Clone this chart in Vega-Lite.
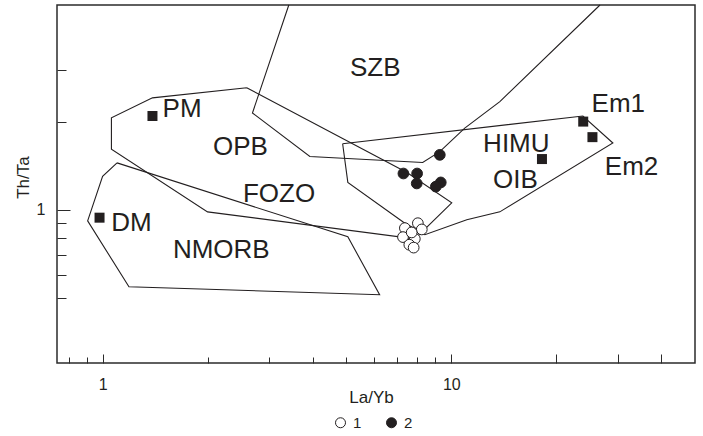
{
  "$schema": "https://vega.github.io/schema/vega-lite/v6.json",
  "width": 638,
  "height": 358,
  "autosize": {"type": "none"},
  "padding": {"left": 57, "top": 5, "right": 8, "bottom": 73},
  "config": {
    "view": {"stroke": "#2b2b2b", "strokeWidth": 1.5},
    "font": "Liberation Sans",
    "axis": {"domain": false, "grid": false, "tickColor": "#2b2b2b", "tickWidth": 1, "labelColor": "#231f20", "titleColor": "#231f20", "labelFontSize": 16, "titleFontSize": 17, "titleFontWeight": "normal"}
  },
  "datasets": {
    "polys": [
      {"poly": "SZB", "i": 1, "x": 3.42, "y": 5.0},
      {"poly": "SZB", "i": 2, "x": 2.69, "y": 2.14},
      {"poly": "SZB", "i": 3, "x": 3.93, "y": 1.52},
      {"poly": "SZB", "i": 4, "x": 8.28, "y": 1.45},
      {"poly": "SZB", "i": 5, "x": 9.27, "y": 1.58},
      {"poly": "SZB", "i": 6, "x": 10.93, "y": 1.90},
      {"poly": "SZB", "i": 7, "x": 13.78, "y": 2.34},
      {"poly": "SZB", "i": 8, "x": 26.7, "y": 5.0},
      {"poly": "OPB", "i": 1, "x": 2.59, "y": 2.61},
      {"poly": "OPB", "i": 2, "x": 1.39, "y": 2.41},
      {"poly": "OPB", "i": 3, "x": 1.06, "y": 2.06},
      {"poly": "OPB", "i": 4, "x": 1.06, "y": 1.61},
      {"poly": "OPB", "i": 5, "x": 2.0, "y": 0.984},
      {"poly": "OPB", "i": 6, "x": 7.86, "y": 0.796},
      {"poly": "OPB", "i": 7, "x": 10.03, "y": 1.056},
      {"poly": "OPB", "i": 8, "x": 7.46, "y": 1.34},
      {"poly": "OPB", "i": 9, "x": 2.59, "y": 2.61},
      {"poly": "OIB", "i": 1, "x": 4.88, "y": 1.68},
      {"poly": "OIB", "i": 2, "x": 23.85, "y": 2.09},
      {"poly": "OIB", "i": 3, "x": 29.07, "y": 1.69},
      {"poly": "OIB", "i": 4, "x": 13.78, "y": 0.984},
      {"poly": "OIB", "i": 5, "x": 11.08, "y": 0.925},
      {"poly": "OIB", "i": 6, "x": 8.40, "y": 0.822},
      {"poly": "OIB", "i": 7, "x": 7.26, "y": 0.91},
      {"poly": "OIB", "i": 8, "x": 5.05, "y": 1.24},
      {"poly": "OIB", "i": 9, "x": 4.88, "y": 1.68},
      {"poly": "NMORB", "i": 1, "x": 1.10, "y": 1.446},
      {"poly": "NMORB", "i": 2, "x": 1.0, "y": 1.30},
      {"poly": "NMORB", "i": 3, "x": 0.906, "y": 0.917},
      {"poly": "NMORB", "i": 4, "x": 1.19, "y": 0.546},
      {"poly": "NMORB", "i": 5, "x": 6.23, "y": 0.513},
      {"poly": "NMORB", "i": 6, "x": 5.05, "y": 0.809},
      {"poly": "NMORB", "i": 7, "x": 1.10, "y": 1.446}
    ],
    "squares": [
      {"name": "PM", "x": 1.39, "y": 2.09},
      {"name": "DM", "x": 0.98, "y": 0.94},
      {"name": "Em1", "x": 23.9, "y": 2.0},
      {"name": "Em2", "x": 25.4, "y": 1.77},
      {"name": "HIMU", "x": 18.2, "y": 1.49}
    ],
    "samples": [
      {"group": "1", "x": 8.02, "y": 0.90},
      {"group": "1", "x": 7.36, "y": 0.866},
      {"group": "1", "x": 8.23, "y": 0.857},
      {"group": "1", "x": 7.27, "y": 0.807},
      {"group": "1", "x": 7.86, "y": 0.796},
      {"group": "1", "x": 7.58, "y": 0.76},
      {"group": "1", "x": 7.80, "y": 0.743},
      {"group": "1", "x": 7.70, "y": 0.837},
      {"group": "2", "x": 9.27, "y": 1.54},
      {"group": "2", "x": 7.29, "y": 1.33},
      {"group": "2", "x": 7.98, "y": 1.33},
      {"group": "2", "x": 7.96, "y": 1.23},
      {"group": "2", "x": 9.33, "y": 1.24},
      {"group": "2", "x": 9.03, "y": 1.20}
    ],
    "labels": [
      {"text": "SZB", "x": 5.12, "y": 2.864},
      {"text": "PM", "x": 1.486, "y": 2.07},
      {"text": "OPB", "x": 2.073, "y": 1.54},
      {"text": "FOZO", "x": 2.527, "y": 1.067},
      {"text": "NMORB", "x": 1.591, "y": 0.684},
      {"text": "DM", "x": 1.059, "y": 0.844},
      {"text": "HIMU", "x": 12.34, "y": 1.58},
      {"text": "OIB", "x": 13.18, "y": 1.186},
      {"text": "Em1", "x": 25.26, "y": 2.164},
      {"text": "Em2", "x": 27.57, "y": 1.316}
    ]
  },
  "resolve": {"axis": {"x": "independent", "y": "independent"}},
  "layer": [
    {
      "data": {"name": "polys"},
      "mark": {"type": "line", "color": "#231f20", "strokeWidth": 1.1},
      "encoding": {
        "x": {"field": "x", "type": "quantitative", "scale": {"type": "log", "domain": [0.74, 50], "nice": false},
              "axis": {"orient": "bottom", "values": [0.8, 0.9, 2, 3, 4, 5, 6, 7, 8, 9], "tickSize": -6, "labels": false, "title": null}},
        "y": {"field": "y", "type": "quantitative", "scale": {"type": "log", "domain": [0.3, 5], "nice": false},
              "axis": {"orient": "left", "values": [0.5, 0.6, 0.7, 0.8, 0.9, 2, 3], "tickSize": -9, "labels": false, "title": null}},
        "detail": {"field": "poly"},
        "order": {"field": "i", "type": "quantitative"}
      }
    },
    {
      "data": {"name": "squares"},
      "mark": {"type": "square", "filled": true, "color": "#231f20", "size": 100, "opacity": 1},
      "encoding": {
        "x": {"field": "x", "type": "quantitative",
              "axis": {"orient": "bottom", "values": [1, 10, 20, 30, 40], "tickSize": -9, "labelPadding": 22,
                       "labelExpr": "datum.value == 1 || datum.value == 10 ? datum.label : ''",
                       "title": "La/Yb", "titleX": 314, "titleY": 26, "titleBaseline": "top"}},
        "y": {"field": "y", "type": "quantitative",
              "axis": {"orient": "left", "values": [1], "tickSize": -13, "labelPadding": 25,
                       "title": "Th/Ta", "titleX": -29, "titleY": 172, "titleBaseline": "alphabetic"}}
      }
    },
    {
      "data": {"name": "samples"},
      "mark": {"type": "circle", "stroke": "#231f20", "strokeWidth": 1, "size": 115, "opacity": 1},
      "encoding": {
        "x": {"field": "x", "type": "quantitative", "axis": null},
        "y": {"field": "y", "type": "quantitative", "axis": null},
        "fill": {"field": "group", "type": "nominal", "scale": {"domain": ["1", "2"], "range": ["#ffffff", "#231f20"]},
                 "legend": {"title": null, "orient": "none", "legendX": 276, "legendY": 410, "direction": "horizontal",
                            "symbolType": "circle", "symbolSize": 100, "symbolStrokeColor": "#231f20", "symbolStrokeWidth": 1,
                            "labelFontSize": 15, "labelColor": "#231f20", "labelOffset": 5, "columnPadding": 22}}
      }
    },
    {
      "data": {"name": "labels"},
      "mark": {"type": "text", "fontSize": 26, "align": "left", "baseline": "alphabetic", "color": "#231f20"},
      "encoding": {
        "x": {"field": "x", "type": "quantitative", "axis": null},
        "y": {"field": "y", "type": "quantitative", "axis": null},
        "text": {"field": "text"}
      }
    }
  ]
}
